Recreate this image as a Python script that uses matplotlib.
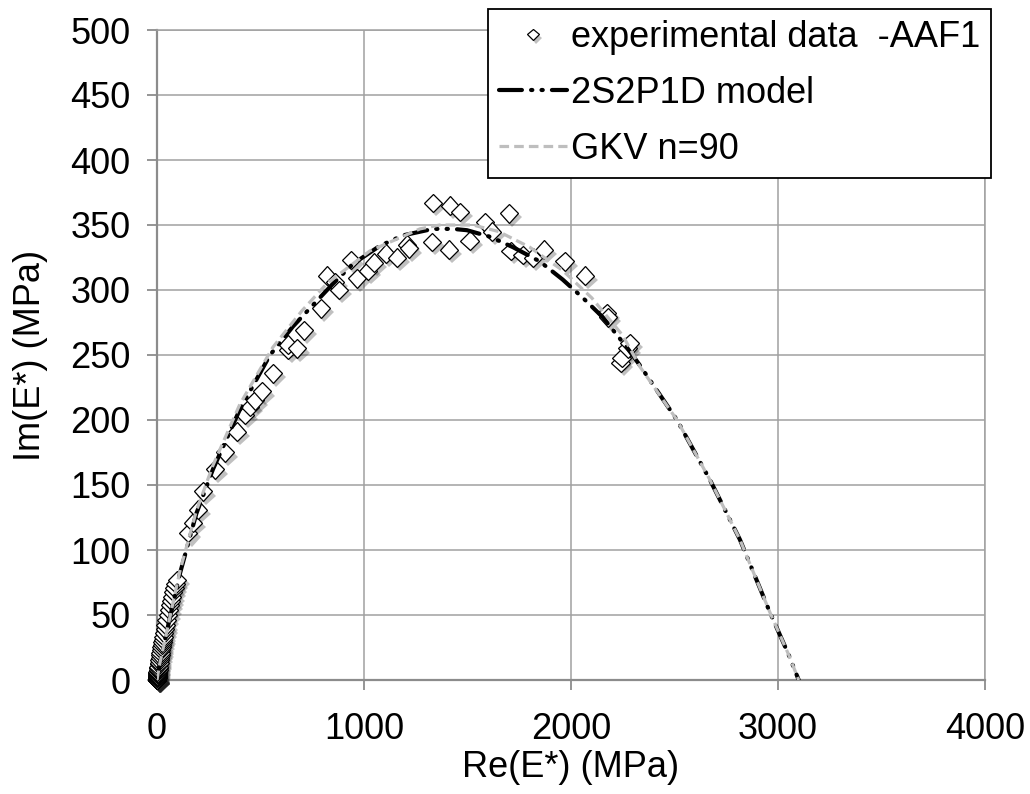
import matplotlib
matplotlib.use("Agg")
import matplotlib.pyplot as plt
import matplotlib.patheffects as pe

plt.rcParams['font.family'] = ['Liberation Sans', 'DejaVu Sans']

# Experimental data (Re(E*), Im(E*)) in MPa
exp_re = [0, 0, 0, 0, 0, 0, 0, 0, 0.1, 0.2, 0.3, 0.5, 0.6, 0.8, 1, 1.2, 1.5, 2, 2.5, 3, 3.5, 4, 5, 6, 7, 8, 10, 11,
          12, 14, 16, 18, 20, 22, 24, 26, 29, 32, 34, 39, 42, 46, 53, 58, 62, 68, 72, 77, 84, 90, 97,
          150, 174, 198, 222, 280, 328, 386, 425, 449, 473, 507, 560,
          633, 633, 676, 710, 792, 821, 860, 879, 937, 966, 1019, 1048, 1106, 1159, 1207, 1217,
          1328, 1333, 1410, 1415, 1463, 1511, 1584, 1618, 1700, 1709, 1767, 1816, 1869, 1970,
          2067, 2173, 2178, 2240, 2245, 2274, 2284]
exp_im = [0, 0.1, 0.2, 0.3, 0.4, 0.5, 0.6, 0.8, 0.1, 0.5, 0.3, 1, 0.7, 0.6, 1.5, 2, 2.5, 3, 4, 4.5, 5, 6, 7, 8, 9, 10,
          12, 13, 15, 17, 19, 21, 23, 25, 27, 29, 31, 33, 36, 39, 42, 46, 50, 54, 58, 61, 64, 68, 71, 74, 77,
          113, 121, 131, 145, 162, 175, 191, 204, 210, 215, 222, 236,
          254, 258, 255, 269, 286, 311, 306, 300, 323, 309, 315, 321, 328, 325, 335, 332,
          337, 367, 331, 365, 360, 338, 352, 345, 359, 330, 327, 325, 331, 322,
          311, 282, 279, 244, 248, 255, 259]

# 2S2P1D model curve
m_re = [0, 10, 40, 111, 190, 270, 400, 546, 657, 845, 946, 1077, 1188, 1333, 1430, 1497, 1608, 1719,
        1849, 1960, 2057, 2154, 2269, 2333, 2512, 2671, 2816, 2961, 3050, 3100]
m_im = [0, 10, 32, 82, 128, 162, 208, 250, 272, 304, 320, 334, 342, 347, 347, 346, 341, 333,
        322, 308, 294, 279, 256, 242, 200, 154, 108, 52, 20, 0]

# GKV n=90 curve
g_re = [0, 10, 40, 111, 190, 270, 400, 560, 700, 821, 1028, 1270, 1366, 1526, 1650, 1800, 1960,
        2100, 2250, 2333, 2512, 2671, 2816, 2961, 3050, 3100]
g_im = [0, 10, 32, 84, 130, 165, 212, 256, 284, 305, 330, 347, 350, 350, 345, 333, 315,
        294, 265, 241, 200, 154, 108, 52, 20, 0]

FS = 26

fig = plt.figure(figsize=(10.30, 7.94), dpi=100)
ax = fig.add_axes([157/1030, 1-680/794, (985-157)/1030, (680-30)/794])

shadow = [pe.SimplePatchShadow(offset=(2.5, -3), shadow_rgbFace='#202020', alpha=0.28), pe.Normal()]
ax.plot(exp_re, exp_im, linestyle='none', marker='D', markersize=9.5, markerfacecolor='white',
        markeredgecolor='black', markeredgewidth=0.9, label='experimental data  -AAF1',
        path_effects=shadow, zorder=3, clip_on=False)
ax.plot(m_re, m_im, color='black', linewidth=3.0, dashes=(5.5, 2.2, 0.3, 2.2, 0.3, 2.2),
        dash_capstyle='round', label='2S2P1D model', zorder=4)
ax.plot(g_re, g_im, color='#BEBEBE', linewidth=2.3, dashes=(3, 1.6), label='GKV n=90', zorder=5)

ax.set_xlim(0, 4000)
ax.set_ylim(0, 500)
ax.set_xticks(range(0, 4001, 1000))
ax.set_yticks(range(0, 501, 50))
ax.grid(True, color='#A0A0A0', linewidth=1.1)
ax.set_axisbelow(True)
for s in ['top', 'right']:
    ax.spines[s].set_color('#A0A0A0')
    ax.spines[s].set_linewidth(1.1)
for s in ['left', 'bottom']:
    ax.spines[s].set_color('#8C8C8C')
    ax.spines[s].set_linewidth(1.6)
ax.tick_params(axis='both', direction='out', length=7, width=1.3, color='#8C8C8C',
               labelsize=FS)
ax.tick_params(axis='y', pad=12)
ax.tick_params(axis='x', pad=16)
ax.set_xlabel('Re(E*) (MPa)', fontsize=FS, labelpad=2)
ax.set_ylabel('Im(E*) (MPa)', fontsize=FS, labelpad=16)

leg = ax.legend(loc='upper right', bbox_to_anchor=(991/1030, 1 - 9/794), bbox_transform=fig.transFigure,
                fontsize=FS, frameon=True, fancybox=False, framealpha=1, edgecolor='black',
                handlelength=1.9, handletextpad=0.1, borderpad=0.3, labelspacing=0.58,
                borderaxespad=0, markerscale=0.6)
leg.get_frame().set_linewidth(1.3)

fig.savefig('out.png', dpi=100)
